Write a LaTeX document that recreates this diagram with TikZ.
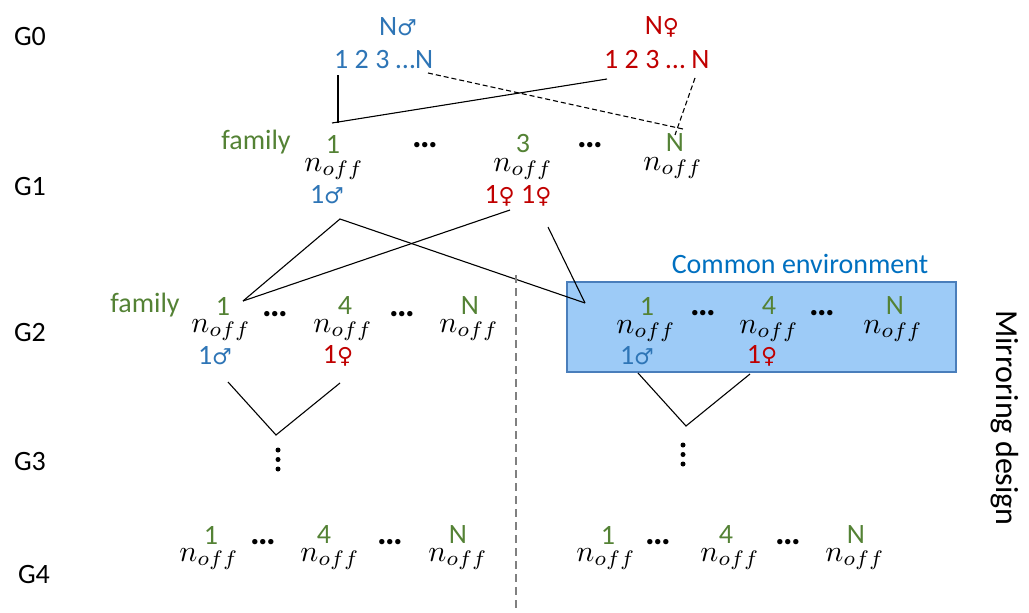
\documentclass[tikz,border=0pt]{standalone}
\usepackage{graphicx}
\usepackage{fontspec}
\setmainfont{Carlito}
\newfontfamily\symf{DejaVu Sans}
\definecolor{cblue}{HTML}{2E75B6}
\definecolor{cred}{HTML}{C00000}
\definecolor{cgreen}{HTML}{548235}
\definecolor{cenv}{HTML}{0070C0}
\definecolor{boxfill}{HTML}{9DCBF7}
\definecolor{boxdraw}{HTML}{4A7EBB}
\newcommand{\mysymm}{{\symf\fontsize{22}{24}\selectfont ♂}}
\newcommand{\mysymf}{{\symf\fontsize{22}{24}\selectfont ♀}}
\newcommand{\noff}{\scalebox{3}{$n_{off}$}}
\tikzset{
  txt/.style={inner sep=0pt, font=\fontsize{28}{32}\selectfont},
  gen/.style={txt},
  num/.style={txt, text=cgreen},
  off/.style={inner sep=0pt},
  mal/.style={txt, text=cblue},
  fem/.style={txt, text=cred},
  sep/.style={inner sep=0pt, font=\fontsize{36}{40}\selectfont\bfseries},
  ln/.style={line width=1.1pt, black},
  dln/.style={line width=1.1pt, black, dash pattern=on 5pt off 3pt},
  vdot/.style={circle, fill=black, inner sep=0pt, minimum size=5pt},
}
\begin{document}
\begin{tikzpicture}[x=1pt,y=-1pt]
\useasboundingbox (0,0) rectangle (1029,613);
% generation labels
\node[gen] (G0) at (30,37) {G0};
\node[gen] (G1) at (30,187) {G1};
\node[gen] (G2) at (30,333) {G2};
\node[gen] (G3) at (30,462) {G3};
\node[gen] (G4) at (34,575) {G4};
% G0
\node[mal] (Nm) at (398,27) {N\mysymm};
\node[mal, anchor=west] (rowm) at (334,60) {1 2 3 …N};
\node[fem] (Nf) at (662,27) {N\mysymf};
\node[fem, anchor=west] (rowf) at (604,60) {1 2 3 … N};
% G1
\node[num] (fam1) at (256,142) {family};
\node[num] (g1n1) at (333,144) {1};
\node[off] (g1o1) at (334,169) {\noff};
\node[mal] (g1s1) at (327,195) {1\mysymm};
\node[sep] (g1d1) at (425,145) {…};
\node[num] (g1n3) at (523,144) {3};
\node[off] (g1o3) at (523,169) {\noff};
\node[fem] (g1s3) at (518,196) {1\mysymf\ 1\mysymf};
\node[sep] (g1d2) at (590,145) {…};
\node[num] (g1nN) at (675,143) {N};
\node[off] (g1oN) at (673,168) {\noff};
% G2 left
\node[num] (fam2) at (145,305) {family};
\node[num] (l1n) at (223,306) {1};
\node[off] (l1o) at (221,330) {\noff};
\node[mal] (l1s) at (215,356) {1\mysymm};
\node[sep] (l1d) at (275,314) {…};
\node[num] (l4n) at (345,306) {4};
\node[off] (l4o) at (343,330) {\noff};
\node[fem] (l4s) at (338,356) {1\mysymf};
\node[sep] (l2d) at (402,314) {…};
\node[num] (lNn) at (470,306) {N};
\node[off] (lNo) at (469,330) {\noff};
% common environment box
\node[draw=boxdraw, fill=boxfill, line width=2pt, minimum width=389pt, minimum height=90pt, inner sep=0pt] (env) at (761.5,327) {};
\node[txt, text=cenv] (envl) at (800,264) {Common environment};
% G2 right
\node[num] (r1n) at (647,306) {1};
\node[off] (r1o) at (646,331) {\noff};
\node[mal] (r1s) at (637,356) {1\mysymm};
\node[sep] (r1d) at (703,313) {…};
\node[num] (r4n) at (769,306) {4};
\node[off] (r4o) at (769,331) {\noff};
\node[fem] (r4s) at (762,356) {1\mysymf};
\node[sep] (r2d) at (822,313) {…};
\node[num] (rNn) at (895,306) {N};
\node[off] (rNo) at (893,331) {\noff};
% G4 left
\node[num] (a1n) at (211,535) {1};
\node[off] (a1o) at (209,559) {\noff};
\node[sep] (a1d) at (263,542) {…};
\node[num] (a4n) at (324,535) {4};
\node[off] (a4o) at (330,559) {\noff};
\node[sep] (a2d) at (390,542) {…};
\node[num] (aNn) at (458,535) {N};
\node[off] (aNo) at (458,559) {\noff};
% G4 right
\node[num] (b1n) at (608,535) {1};
\node[off] (b1o) at (606,559) {\noff};
\node[sep] (b1d) at (658,542) {…};
\node[num] (b4n) at (726,535) {4};
\node[off] (b4o) at (730,559) {\noff};
\node[sep] (b2d) at (788,542) {…};
\node[num] (bNn) at (856,535) {N};
\node[off] (bNo) at (855,559) {\noff};
% mirroring
\node[inner sep=0pt, rotate=-90, font=\fontsize{32}{36}\selectfont] (mir) at (1005,418) {Mirroring design};
% vertical dots G3
\node[vdot] (ld1) at (278,450) {};
\node[vdot] (ld2) at (278,459.5) {};
\node[vdot] (ld3) at (278,469) {};
\node[vdot] (rd1) at (683,445) {};
\node[vdot] (rd2) at (683,454.5) {};
\node[vdot] (rd3) at (683,464) {};
% connector coordinates
\coordinate (p1) at (338,75);
\coordinate (p2) at (338,123);
\coordinate (p3) at (332,123);
\coordinate (p4) at (607,79);
\coordinate (q1) at (428,73);
\coordinate (q2) at (683,129);
\coordinate (q3) at (695,78);
\coordinate (q4) at (675,135);
\coordinate (m1) at (340,219);
\coordinate (fa) at (243,301);
\coordinate (f2) at (510,210);
\coordinate (f3) at (548,227);
\coordinate (e1) at (585,303);
\coordinate (v1) at (228,382);
\coordinate (v2) at (276,435);
\coordinate (v3) at (340,383);
\coordinate (w1) at (638,373);
\coordinate (w2) at (686,426);
\coordinate (w3) at (750,374);
\coordinate (d1) at (516,275);
\coordinate (d2) at (516,613);
% connectors
\draw[ln] (p1) -- (p2);
\draw[ln] (p3) -- (p4);
\draw[dln] (q1) -- (q2);
\draw[dln] (q3) -- (q4);
\draw[ln] (fa) -- (m1) -- (e1);
\draw[ln] (fa) -- (f2);
\draw[ln] (f3) -- (e1);
\draw[ln] (v1) -- (v2) -- (v3);
\draw[ln] (w1) -- (w2) -- (w3);
\draw[line width=1.2pt, color=gray, dash pattern=on 8pt off 5pt] (d1) -- (d2);
\end{tikzpicture}
\end{document}
